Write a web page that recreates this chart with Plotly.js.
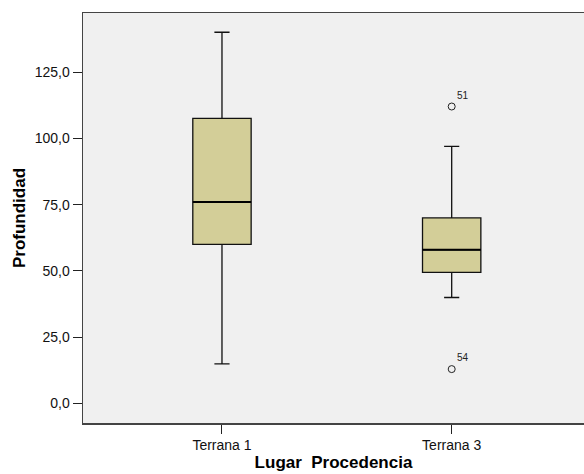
<!DOCTYPE html>
<html>
<head>
<meta charset="utf-8">
<script src="https://cdn.plot.ly/plotly-3.0.1.min.js"></script>
<style>html,body{margin:0;padding:0;background:#fff;}#chart{width:584px;height:474px;}</style>
</head>
<body>
<div id="chart"></div>
<script>
const categories = ['Terrana 1', 'Terrana 3'];
const lowerFence = [15, 40];
const q1 = [60, 49.5];
const median = [76, 58];
const q3 = [107.5, 70];
const upperFence = [140, 97];
const outlierCategory = [1, 1];
const outlierValues = [112, 13];
const outlierLabels = ['51', '54'];

const boxWidth = 0.254;
const traces = [];
categories.forEach((c, i) => {
  traces.push({
    type: 'box',
    x: [i],
    q1: [q1[i]], median: [median[i]], q3: [q3[i]],
    lowerfence: [lowerFence[i]], upperfence: [upperFence[i]],
    width: boxWidth,
    whiskerwidth: 0.26,
    fillcolor: '#D3CE98',
    line: {color: '#111', width: 1.3},
    boxpoints: false,
    hoverinfo: 'skip',
    showlegend: false
  });
  traces.push({
    type: 'scatter', mode: 'lines',
    x: [i - boxWidth / 2, i + boxWidth / 2],
    y: [median[i], median[i]],
    line: {color: '#000', width: 2},
    hoverinfo: 'skip', showlegend: false
  });
});
traces.push({
  type: 'scatter', mode: 'markers+text',
  x: outlierCategory, y: outlierValues,
  text: outlierLabels,
  textposition: 'top right',
  textfont: {family: 'Liberation Sans, Arial, sans-serif', size: 10, color: '#222'},
  marker: {symbol: 'circle-open', size: 7, color: '#222', line: {width: 1}},
  cliponaxis: false,
  hoverinfo: 'skip', showlegend: false
});

const layout = {
  width: 584, height: 474,
  margin: {l: 83, r: 0, t: 13, b: 51},
  paper_bgcolor: '#ffffff',
  plot_bgcolor: '#F0F0F0',
  separators: ',.',
  font: {family: 'Liberation Sans, Arial, sans-serif', color: '#000'},
  xaxis: {
    range: [-0.605, 1.576],
    tickvals: [0, 1], ticktext: categories,
    showgrid: false, zeroline: false,
    showline: true, linecolor: '#444', linewidth: 1.5, mirror: true,
    ticks: 'outside', ticklen: 9, tickcolor: '#222', tickwidth: 1,
    tickfont: {size: 14, color: '#111'},
    title: {text: 'Lugar  Procedencia', font: {size: 17, color: '#000', weight: 'bold'}, standoff: 4}
  },
  yaxis: {
    range: [-7.32, 147.26],
    tickvals: [0, 25, 50, 75, 100, 125],
    tickformat: '.1f',
    showgrid: false, zeroline: false,
    showline: true, linecolor: '#444', linewidth: 1.5,
    ticks: 'outside', ticklen: 9, tickcolor: '#222', tickwidth: 1,
    tickfont: {size: 14, color: '#111'},
    title: {text: 'Profundidad', font: {size: 17, color: '#000', weight: 'bold'}, standoff: 4}
  }
};
Plotly.newPlot('chart', traces, layout, {displayModeBar: false, staticPlot: true});
</script>
</body>
</html>
